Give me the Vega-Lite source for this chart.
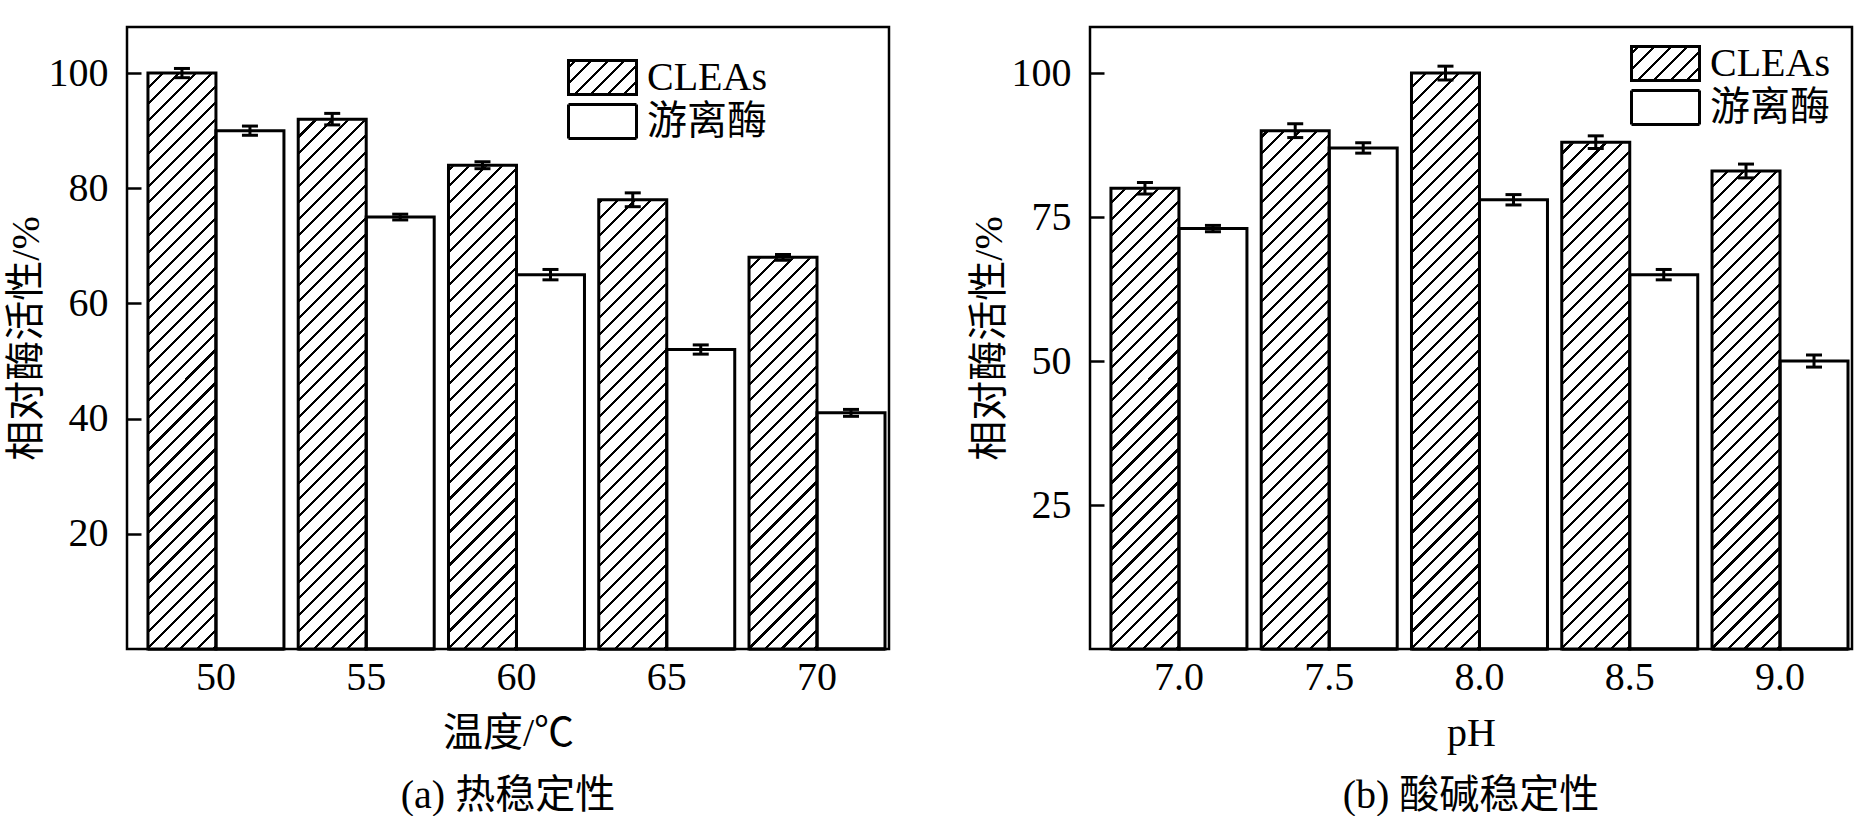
{
  "$schema": "https://vega.github.io/schema/vega-lite/v6.json",
  "background": "white",
  "padding": {"left": 4, "top": 25, "right": 2, "bottom": 0},
  "spacing": 76,
  "datasets": {
    "temp": [
      {"t": "50", "series": "CLEAs", "value": 100, "lo": 99.2, "hi": 100.8},
      {"t": "50", "series": "游离酶", "value": 90, "lo": 89.2, "hi": 90.8},
      {"t": "55", "series": "CLEAs", "value": 92, "lo": 91.0, "hi": 93.0},
      {"t": "55", "series": "游离酶", "value": 75, "lo": 74.5, "hi": 75.5},
      {"t": "60", "series": "CLEAs", "value": 84, "lo": 83.4, "hi": 84.6},
      {"t": "60", "series": "游离酶", "value": 65, "lo": 64.1, "hi": 65.9},
      {"t": "65", "series": "CLEAs", "value": 78, "lo": 76.8, "hi": 79.2},
      {"t": "65", "series": "游离酶", "value": 52, "lo": 51.2, "hi": 52.8},
      {"t": "70", "series": "CLEAs", "value": 68, "lo": 67.5, "hi": 68.5},
      {"t": "70", "series": "游离酶", "value": 41, "lo": 40.4, "hi": 41.6}
    ],
    "ph": [
      {"t": "7.0", "series": "CLEAs", "value": 80, "lo": 79.0, "hi": 81.0},
      {"t": "7.0", "series": "游离酶", "value": 73, "lo": 72.45, "hi": 73.55},
      {"t": "7.5", "series": "CLEAs", "value": 90, "lo": 88.8, "hi": 91.2},
      {"t": "7.5", "series": "游离酶", "value": 87, "lo": 86.1, "hi": 87.9},
      {"t": "8.0", "series": "CLEAs", "value": 100, "lo": 98.8, "hi": 101.2},
      {"t": "8.0", "series": "游离酶", "value": 78, "lo": 77.1, "hi": 78.9},
      {"t": "8.5", "series": "CLEAs", "value": 88, "lo": 86.9, "hi": 89.1},
      {"t": "8.5", "series": "游离酶", "value": 65, "lo": 64.1, "hi": 65.9},
      {"t": "9.0", "series": "CLEAs", "value": 83, "lo": 81.8, "hi": 84.2},
      {"t": "9.0", "series": "游离酶", "value": 50, "lo": 48.95, "hi": 51.05}
    ]
  },
  "hconcat": [
    {
      "width": 762,
      "height": 622,
      "data": {"name": "temp"},
      "title": {"text": "(a) 热稳定性", "orient": "bottom", "offset": 23},
      "encoding": {
        "x": {
          "field": "t", "type": "nominal", "sort": null, "title": "温度/℃",
          "scale": {"paddingInner": 0.095, "paddingOuter": 0.083, "align": 0.84},
          "axis": {"labelAngle": 0, "ticks": false, "labelPadding": 8, "titlePadding": 16}
        },
        "xOffset": {
          "field": "series", "type": "nominal",
          "scale": {"domain": ["CLEAs", "游离酶"], "paddingInner": 0, "paddingOuter": 0}
        }
      },
      "layer": [
        {
          "transform": [{"filter": "datum.series === 'CLEAs'"}],
          "mark": {"type": "bar", "strokeWidth": 3,
            "fill": {"gradient": "linear", "x1": 0, "y1": 0, "x2": 1.2, "y2": 0.6, "stops": [
              {"offset": 0.05, "color": "#fff"}, {"offset": 0.05, "color": "#000"}, {"offset": 0.08, "color": "#000"}, {"offset": 0.08, "color": "#fff"},
              {"offset": 0.212, "color": "#fff"}, {"offset": 0.212, "color": "#000"}, {"offset": 0.242, "color": "#000"}, {"offset": 0.242, "color": "#fff"},
              {"offset": 0.374, "color": "#fff"}, {"offset": 0.374, "color": "#000"}, {"offset": 0.404, "color": "#000"}, {"offset": 0.404, "color": "#fff"},
              {"offset": 0.536, "color": "#fff"}, {"offset": 0.536, "color": "#000"}, {"offset": 0.566, "color": "#000"}, {"offset": 0.566, "color": "#fff"},
              {"offset": 0.698, "color": "#fff"}, {"offset": 0.698, "color": "#000"}, {"offset": 0.728, "color": "#000"}, {"offset": 0.728, "color": "#fff"},
              {"offset": 0.86, "color": "#fff"}, {"offset": 0.86, "color": "#000"}, {"offset": 0.89, "color": "#000"}, {"offset": 0.89, "color": "#fff"}
            ]}},
          "encoding": {
            "y": {"datum": 0, "type": "quantitative", "scale": {"domain": [0, 108], "nice": false},
              "axis": {"values": [20, 40, 60, 80, 100], "title": "相对酶活性/%", "tickSize": -14, "tickWidth": 2.5, "labelPadding": 33, "titlePadding": 2}},
            "y2": {"datum": 0},
            "stroke": {
              "field": "series", "type": "nominal",
              "scale": {"domain": ["CLEAs"], "range": ["black"]},
              "legend": {"orient": "none", "legendX": 440, "legendY": 15, "title": null, "zindex": 1, "padding": 0,
                "symbolType": "M-1,-0.5H1V0.5H-1Z", "symbolSize": 4624, "symbolStrokeWidth": 3, "labelOffset": 9}
            }
          }
        },
        {
          "transform": [{"filter": "datum.series === '游离酶'"}],
          "mark": {"type": "bar", "fill": "white", "stroke": "black", "strokeWidth": 3},
          "encoding": {
            "y": {"datum": 0, "type": "quantitative"},
            "y2": {"datum": 0},
            "strokeDash": {
              "field": "series", "type": "nominal",
              "scale": {"domain": ["游离酶"], "range": [[1, 0]]},
              "legend": {"orient": "none", "legendX": 440, "legendY": 59, "title": null, "zindex": 1, "padding": 0,
                "symbolType": "M-1,-0.5H1V0.5H-1Z", "symbolSize": 4624, "symbolStrokeWidth": 3, "labelOffset": 9}
            }
          }
        },
        {
          "transform": [{"filter": "datum.series === 'CLEAs'"}],
          "mark": {"type": "bar", "strokeWidth": 0,
            "fill": {"gradient": "linear", "x1": 0, "y1": 0, "x2": 0.12045, "y2": 1.09663, "stops": [
              {"offset": 0.010, "color": "#fff"}, {"offset": 0.010, "color": "#000"}, {"offset": 0.0145, "color": "#000"}, {"offset": 0.0145, "color": "#fff"},
              {"offset": 0.034, "color": "#fff"}, {"offset": 0.034, "color": "#000"}, {"offset": 0.0385, "color": "#000"}, {"offset": 0.0385, "color": "#fff"},
              {"offset": 0.058, "color": "#fff"}, {"offset": 0.058, "color": "#000"}, {"offset": 0.0625, "color": "#000"}, {"offset": 0.0625, "color": "#fff"},
              {"offset": 0.082, "color": "#fff"}, {"offset": 0.082, "color": "#000"}, {"offset": 0.0865, "color": "#000"}, {"offset": 0.0865, "color": "#fff"},
              {"offset": 0.106, "color": "#fff"}, {"offset": 0.106, "color": "#000"}, {"offset": 0.1105, "color": "#000"}, {"offset": 0.1105, "color": "#fff"},
              {"offset": 0.130, "color": "#fff"}, {"offset": 0.130, "color": "#000"}, {"offset": 0.1345, "color": "#000"}, {"offset": 0.1345, "color": "#fff"},
              {"offset": 0.154, "color": "#fff"}, {"offset": 0.154, "color": "#000"}, {"offset": 0.1585, "color": "#000"}, {"offset": 0.1585, "color": "#fff"},
              {"offset": 0.178, "color": "#fff"}, {"offset": 0.178, "color": "#000"}, {"offset": 0.1825, "color": "#000"}, {"offset": 0.1825, "color": "#fff"},
              {"offset": 0.202, "color": "#fff"}, {"offset": 0.202, "color": "#000"}, {"offset": 0.2065, "color": "#000"}, {"offset": 0.2065, "color": "#fff"},
              {"offset": 0.226, "color": "#fff"}, {"offset": 0.226, "color": "#000"}, {"offset": 0.2305, "color": "#000"}, {"offset": 0.2305, "color": "#fff"},
              {"offset": 0.250, "color": "#fff"}, {"offset": 0.250, "color": "#000"}, {"offset": 0.2545, "color": "#000"}, {"offset": 0.2545, "color": "#fff"},
              {"offset": 0.274, "color": "#fff"}, {"offset": 0.274, "color": "#000"}, {"offset": 0.2785, "color": "#000"}, {"offset": 0.2785, "color": "#fff"},
              {"offset": 0.298, "color": "#fff"}, {"offset": 0.298, "color": "#000"}, {"offset": 0.3025, "color": "#000"}, {"offset": 0.3025, "color": "#fff"},
              {"offset": 0.322, "color": "#fff"}, {"offset": 0.322, "color": "#000"}, {"offset": 0.3265, "color": "#000"}, {"offset": 0.3265, "color": "#fff"},
              {"offset": 0.346, "color": "#fff"}, {"offset": 0.346, "color": "#000"}, {"offset": 0.3505, "color": "#000"}, {"offset": 0.3505, "color": "#fff"},
              {"offset": 0.370, "color": "#fff"}, {"offset": 0.370, "color": "#000"}, {"offset": 0.3745, "color": "#000"}, {"offset": 0.3745, "color": "#fff"},
              {"offset": 0.394, "color": "#fff"}, {"offset": 0.394, "color": "#000"}, {"offset": 0.3985, "color": "#000"}, {"offset": 0.3985, "color": "#fff"},
              {"offset": 0.418, "color": "#fff"}, {"offset": 0.418, "color": "#000"}, {"offset": 0.4225, "color": "#000"}, {"offset": 0.4225, "color": "#fff"},
              {"offset": 0.442, "color": "#fff"}, {"offset": 0.442, "color": "#000"}, {"offset": 0.4465, "color": "#000"}, {"offset": 0.4465, "color": "#fff"},
              {"offset": 0.466, "color": "#fff"}, {"offset": 0.466, "color": "#000"}, {"offset": 0.4705, "color": "#000"}, {"offset": 0.4705, "color": "#fff"},
              {"offset": 0.490, "color": "#fff"}, {"offset": 0.490, "color": "#000"}, {"offset": 0.4945, "color": "#000"}, {"offset": 0.4945, "color": "#fff"},
              {"offset": 0.514, "color": "#fff"}, {"offset": 0.514, "color": "#000"}, {"offset": 0.5185, "color": "#000"}, {"offset": 0.5185, "color": "#fff"},
              {"offset": 0.538, "color": "#fff"}, {"offset": 0.538, "color": "#000"}, {"offset": 0.5425, "color": "#000"}, {"offset": 0.5425, "color": "#fff"},
              {"offset": 0.562, "color": "#fff"}, {"offset": 0.562, "color": "#000"}, {"offset": 0.5665, "color": "#000"}, {"offset": 0.5665, "color": "#fff"},
              {"offset": 0.586, "color": "#fff"}, {"offset": 0.586, "color": "#000"}, {"offset": 0.5905, "color": "#000"}, {"offset": 0.5905, "color": "#fff"},
              {"offset": 0.610, "color": "#fff"}, {"offset": 0.610, "color": "#000"}, {"offset": 0.6145, "color": "#000"}, {"offset": 0.6145, "color": "#fff"},
              {"offset": 0.634, "color": "#fff"}, {"offset": 0.634, "color": "#000"}, {"offset": 0.6385, "color": "#000"}, {"offset": 0.6385, "color": "#fff"},
              {"offset": 0.658, "color": "#fff"}, {"offset": 0.658, "color": "#000"}, {"offset": 0.6625, "color": "#000"}, {"offset": 0.6625, "color": "#fff"},
              {"offset": 0.682, "color": "#fff"}, {"offset": 0.682, "color": "#000"}, {"offset": 0.6865, "color": "#000"}, {"offset": 0.6865, "color": "#fff"},
              {"offset": 0.706, "color": "#fff"}, {"offset": 0.706, "color": "#000"}, {"offset": 0.7105, "color": "#000"}, {"offset": 0.7105, "color": "#fff"},
              {"offset": 0.730, "color": "#fff"}, {"offset": 0.730, "color": "#000"}, {"offset": 0.7345, "color": "#000"}, {"offset": 0.7345, "color": "#fff"},
              {"offset": 0.754, "color": "#fff"}, {"offset": 0.754, "color": "#000"}, {"offset": 0.7585, "color": "#000"}, {"offset": 0.7585, "color": "#fff"},
              {"offset": 0.778, "color": "#fff"}, {"offset": 0.778, "color": "#000"}, {"offset": 0.7825, "color": "#000"}, {"offset": 0.7825, "color": "#fff"},
              {"offset": 0.802, "color": "#fff"}, {"offset": 0.802, "color": "#000"}, {"offset": 0.8065, "color": "#000"}, {"offset": 0.8065, "color": "#fff"},
              {"offset": 0.826, "color": "#fff"}, {"offset": 0.826, "color": "#000"}, {"offset": 0.8305, "color": "#000"}, {"offset": 0.8305, "color": "#fff"},
              {"offset": 0.850, "color": "#fff"}, {"offset": 0.850, "color": "#000"}, {"offset": 0.8545, "color": "#000"}, {"offset": 0.8545, "color": "#fff"},
              {"offset": 0.874, "color": "#fff"}, {"offset": 0.874, "color": "#000"}, {"offset": 0.8785, "color": "#000"}, {"offset": 0.8785, "color": "#fff"},
              {"offset": 0.898, "color": "#fff"}, {"offset": 0.898, "color": "#000"}, {"offset": 0.9025, "color": "#000"}, {"offset": 0.9025, "color": "#fff"},
              {"offset": 0.922, "color": "#fff"}, {"offset": 0.922, "color": "#000"}, {"offset": 0.9265, "color": "#000"}, {"offset": 0.9265, "color": "#fff"},
              {"offset": 0.946, "color": "#fff"}, {"offset": 0.946, "color": "#000"}, {"offset": 0.9505, "color": "#000"}, {"offset": 0.9505, "color": "#fff"},
              {"offset": 0.970, "color": "#fff"}, {"offset": 0.970, "color": "#000"}, {"offset": 0.9745, "color": "#000"}, {"offset": 0.9745, "color": "#fff"},
              {"offset": 0.994, "color": "#fff"}, {"offset": 0.994, "color": "#000"}, {"offset": 0.9985, "color": "#000"}, {"offset": 0.9985, "color": "#fff"}
            ]}},
          "encoding": {
            "y": {"datum": 107.5, "type": "quantitative"},
            "y2": {"datum": 0}
          }
        },
        {
          "mark": {"type": "bar", "fill": "white", "stroke": "white", "strokeWidth": 2},
          "encoding": {
            "y": {"field": "value", "type": "quantitative"},
            "y2": {"datum": 107.5}
          }
        },
        {
          "mark": {"type": "bar", "fill": "transparent", "stroke": "black", "strokeWidth": 3},
          "encoding": {
            "y": {"field": "value", "type": "quantitative"},
            "y2": {"datum": 0}
          }
        },
        {
          "mark": {"type": "rule", "color": "black", "strokeWidth": 3},
          "encoding": {"y": {"field": "lo", "type": "quantitative"}, "y2": {"field": "hi"}}
        },
        {
          "mark": {"type": "tick", "color": "black", "thickness": 3, "size": 16, "orient": "horizontal", "opacity": 1},
          "encoding": {"y": {"field": "lo", "type": "quantitative"}}
        },
        {
          "mark": {"type": "tick", "color": "black", "thickness": 3, "size": 16, "orient": "horizontal", "opacity": 1},
          "encoding": {"y": {"field": "hi", "type": "quantitative"}}
        }
      ]
    },
    {
      "width": 762,
      "height": 622,
      "data": {"name": "ph"},
      "title": {"text": "(b) 酸碱稳定性", "orient": "bottom", "offset": 23},
      "encoding": {
        "x": {
          "field": "t", "type": "nominal", "sort": null, "title": "pH",
          "scale": {"paddingInner": 0.095, "paddingOuter": 0.083, "align": 0.84},
          "axis": {"labelAngle": 0, "ticks": false, "labelPadding": 8, "titlePadding": 16}
        },
        "xOffset": {
          "field": "series", "type": "nominal",
          "scale": {"domain": ["CLEAs", "游离酶"], "paddingInner": 0, "paddingOuter": 0}
        }
      },
      "layer": [
        {
          "transform": [{"filter": "datum.series === 'CLEAs'"}],
          "mark": {"type": "bar", "strokeWidth": 3,
            "fill": {"gradient": "linear", "x1": 0, "y1": 0, "x2": 1.2, "y2": 0.6, "stops": [
              {"offset": 0.05, "color": "#fff"}, {"offset": 0.05, "color": "#000"}, {"offset": 0.08, "color": "#000"}, {"offset": 0.08, "color": "#fff"},
              {"offset": 0.212, "color": "#fff"}, {"offset": 0.212, "color": "#000"}, {"offset": 0.242, "color": "#000"}, {"offset": 0.242, "color": "#fff"},
              {"offset": 0.374, "color": "#fff"}, {"offset": 0.374, "color": "#000"}, {"offset": 0.404, "color": "#000"}, {"offset": 0.404, "color": "#fff"},
              {"offset": 0.536, "color": "#fff"}, {"offset": 0.536, "color": "#000"}, {"offset": 0.566, "color": "#000"}, {"offset": 0.566, "color": "#fff"},
              {"offset": 0.698, "color": "#fff"}, {"offset": 0.698, "color": "#000"}, {"offset": 0.728, "color": "#000"}, {"offset": 0.728, "color": "#fff"},
              {"offset": 0.86, "color": "#fff"}, {"offset": 0.86, "color": "#000"}, {"offset": 0.89, "color": "#000"}, {"offset": 0.89, "color": "#fff"}
            ]}},
          "encoding": {
            "y": {"datum": 0, "type": "quantitative", "scale": {"domain": [0, 108], "nice": false},
              "axis": {"values": [25, 50, 75, 100], "title": "相对酶活性/%", "tickSize": -14, "tickWidth": 2.5, "labelPadding": 33, "titlePadding": 2}},
            "y2": {"datum": 0},
            "stroke": {
              "field": "series", "type": "nominal",
              "scale": {"domain": ["CLEAs"], "range": ["black"]},
              "legend": {"orient": "none", "legendX": 540, "legendY": 1, "title": null, "zindex": 1, "padding": 0,
                "symbolType": "M-1,-0.5H1V0.5H-1Z", "symbolSize": 4624, "symbolStrokeWidth": 3, "labelOffset": 9}
            }
          }
        },
        {
          "transform": [{"filter": "datum.series === '游离酶'"}],
          "mark": {"type": "bar", "fill": "white", "stroke": "black", "strokeWidth": 3},
          "encoding": {
            "y": {"datum": 0, "type": "quantitative"},
            "y2": {"datum": 0},
            "strokeDash": {
              "field": "series", "type": "nominal",
              "scale": {"domain": ["游离酶"], "range": [[1, 0]]},
              "legend": {"orient": "none", "legendX": 540, "legendY": 45, "title": null, "zindex": 1, "padding": 0,
                "symbolType": "M-1,-0.5H1V0.5H-1Z", "symbolSize": 4624, "symbolStrokeWidth": 3, "labelOffset": 9}
            }
          }
        },
        {
          "transform": [{"filter": "datum.series === 'CLEAs'"}],
          "mark": {"type": "bar", "strokeWidth": 0,
            "fill": {"gradient": "linear", "x1": 0, "y1": 0, "x2": 0.12045, "y2": 1.09663, "stops": [
              {"offset": 0.010, "color": "#fff"}, {"offset": 0.010, "color": "#000"}, {"offset": 0.0145, "color": "#000"}, {"offset": 0.0145, "color": "#fff"},
              {"offset": 0.034, "color": "#fff"}, {"offset": 0.034, "color": "#000"}, {"offset": 0.0385, "color": "#000"}, {"offset": 0.0385, "color": "#fff"},
              {"offset": 0.058, "color": "#fff"}, {"offset": 0.058, "color": "#000"}, {"offset": 0.0625, "color": "#000"}, {"offset": 0.0625, "color": "#fff"},
              {"offset": 0.082, "color": "#fff"}, {"offset": 0.082, "color": "#000"}, {"offset": 0.0865, "color": "#000"}, {"offset": 0.0865, "color": "#fff"},
              {"offset": 0.106, "color": "#fff"}, {"offset": 0.106, "color": "#000"}, {"offset": 0.1105, "color": "#000"}, {"offset": 0.1105, "color": "#fff"},
              {"offset": 0.130, "color": "#fff"}, {"offset": 0.130, "color": "#000"}, {"offset": 0.1345, "color": "#000"}, {"offset": 0.1345, "color": "#fff"},
              {"offset": 0.154, "color": "#fff"}, {"offset": 0.154, "color": "#000"}, {"offset": 0.1585, "color": "#000"}, {"offset": 0.1585, "color": "#fff"},
              {"offset": 0.178, "color": "#fff"}, {"offset": 0.178, "color": "#000"}, {"offset": 0.1825, "color": "#000"}, {"offset": 0.1825, "color": "#fff"},
              {"offset": 0.202, "color": "#fff"}, {"offset": 0.202, "color": "#000"}, {"offset": 0.2065, "color": "#000"}, {"offset": 0.2065, "color": "#fff"},
              {"offset": 0.226, "color": "#fff"}, {"offset": 0.226, "color": "#000"}, {"offset": 0.2305, "color": "#000"}, {"offset": 0.2305, "color": "#fff"},
              {"offset": 0.250, "color": "#fff"}, {"offset": 0.250, "color": "#000"}, {"offset": 0.2545, "color": "#000"}, {"offset": 0.2545, "color": "#fff"},
              {"offset": 0.274, "color": "#fff"}, {"offset": 0.274, "color": "#000"}, {"offset": 0.2785, "color": "#000"}, {"offset": 0.2785, "color": "#fff"},
              {"offset": 0.298, "color": "#fff"}, {"offset": 0.298, "color": "#000"}, {"offset": 0.3025, "color": "#000"}, {"offset": 0.3025, "color": "#fff"},
              {"offset": 0.322, "color": "#fff"}, {"offset": 0.322, "color": "#000"}, {"offset": 0.3265, "color": "#000"}, {"offset": 0.3265, "color": "#fff"},
              {"offset": 0.346, "color": "#fff"}, {"offset": 0.346, "color": "#000"}, {"offset": 0.3505, "color": "#000"}, {"offset": 0.3505, "color": "#fff"},
              {"offset": 0.370, "color": "#fff"}, {"offset": 0.370, "color": "#000"}, {"offset": 0.3745, "color": "#000"}, {"offset": 0.3745, "color": "#fff"},
              {"offset": 0.394, "color": "#fff"}, {"offset": 0.394, "color": "#000"}, {"offset": 0.3985, "color": "#000"}, {"offset": 0.3985, "color": "#fff"},
              {"offset": 0.418, "color": "#fff"}, {"offset": 0.418, "color": "#000"}, {"offset": 0.4225, "color": "#000"}, {"offset": 0.4225, "color": "#fff"},
              {"offset": 0.442, "color": "#fff"}, {"offset": 0.442, "color": "#000"}, {"offset": 0.4465, "color": "#000"}, {"offset": 0.4465, "color": "#fff"},
              {"offset": 0.466, "color": "#fff"}, {"offset": 0.466, "color": "#000"}, {"offset": 0.4705, "color": "#000"}, {"offset": 0.4705, "color": "#fff"},
              {"offset": 0.490, "color": "#fff"}, {"offset": 0.490, "color": "#000"}, {"offset": 0.4945, "color": "#000"}, {"offset": 0.4945, "color": "#fff"},
              {"offset": 0.514, "color": "#fff"}, {"offset": 0.514, "color": "#000"}, {"offset": 0.5185, "color": "#000"}, {"offset": 0.5185, "color": "#fff"},
              {"offset": 0.538, "color": "#fff"}, {"offset": 0.538, "color": "#000"}, {"offset": 0.5425, "color": "#000"}, {"offset": 0.5425, "color": "#fff"},
              {"offset": 0.562, "color": "#fff"}, {"offset": 0.562, "color": "#000"}, {"offset": 0.5665, "color": "#000"}, {"offset": 0.5665, "color": "#fff"},
              {"offset": 0.586, "color": "#fff"}, {"offset": 0.586, "color": "#000"}, {"offset": 0.5905, "color": "#000"}, {"offset": 0.5905, "color": "#fff"},
              {"offset": 0.610, "color": "#fff"}, {"offset": 0.610, "color": "#000"}, {"offset": 0.6145, "color": "#000"}, {"offset": 0.6145, "color": "#fff"},
              {"offset": 0.634, "color": "#fff"}, {"offset": 0.634, "color": "#000"}, {"offset": 0.6385, "color": "#000"}, {"offset": 0.6385, "color": "#fff"},
              {"offset": 0.658, "color": "#fff"}, {"offset": 0.658, "color": "#000"}, {"offset": 0.6625, "color": "#000"}, {"offset": 0.6625, "color": "#fff"},
              {"offset": 0.682, "color": "#fff"}, {"offset": 0.682, "color": "#000"}, {"offset": 0.6865, "color": "#000"}, {"offset": 0.6865, "color": "#fff"},
              {"offset": 0.706, "color": "#fff"}, {"offset": 0.706, "color": "#000"}, {"offset": 0.7105, "color": "#000"}, {"offset": 0.7105, "color": "#fff"},
              {"offset": 0.730, "color": "#fff"}, {"offset": 0.730, "color": "#000"}, {"offset": 0.7345, "color": "#000"}, {"offset": 0.7345, "color": "#fff"},
              {"offset": 0.754, "color": "#fff"}, {"offset": 0.754, "color": "#000"}, {"offset": 0.7585, "color": "#000"}, {"offset": 0.7585, "color": "#fff"},
              {"offset": 0.778, "color": "#fff"}, {"offset": 0.778, "color": "#000"}, {"offset": 0.7825, "color": "#000"}, {"offset": 0.7825, "color": "#fff"},
              {"offset": 0.802, "color": "#fff"}, {"offset": 0.802, "color": "#000"}, {"offset": 0.8065, "color": "#000"}, {"offset": 0.8065, "color": "#fff"},
              {"offset": 0.826, "color": "#fff"}, {"offset": 0.826, "color": "#000"}, {"offset": 0.8305, "color": "#000"}, {"offset": 0.8305, "color": "#fff"},
              {"offset": 0.850, "color": "#fff"}, {"offset": 0.850, "color": "#000"}, {"offset": 0.8545, "color": "#000"}, {"offset": 0.8545, "color": "#fff"},
              {"offset": 0.874, "color": "#fff"}, {"offset": 0.874, "color": "#000"}, {"offset": 0.8785, "color": "#000"}, {"offset": 0.8785, "color": "#fff"},
              {"offset": 0.898, "color": "#fff"}, {"offset": 0.898, "color": "#000"}, {"offset": 0.9025, "color": "#000"}, {"offset": 0.9025, "color": "#fff"},
              {"offset": 0.922, "color": "#fff"}, {"offset": 0.922, "color": "#000"}, {"offset": 0.9265, "color": "#000"}, {"offset": 0.9265, "color": "#fff"},
              {"offset": 0.946, "color": "#fff"}, {"offset": 0.946, "color": "#000"}, {"offset": 0.9505, "color": "#000"}, {"offset": 0.9505, "color": "#fff"},
              {"offset": 0.970, "color": "#fff"}, {"offset": 0.970, "color": "#000"}, {"offset": 0.9745, "color": "#000"}, {"offset": 0.9745, "color": "#fff"},
              {"offset": 0.994, "color": "#fff"}, {"offset": 0.994, "color": "#000"}, {"offset": 0.9985, "color": "#000"}, {"offset": 0.9985, "color": "#fff"}
            ]}},
          "encoding": {
            "y": {"datum": 107.5, "type": "quantitative"},
            "y2": {"datum": 0}
          }
        },
        {
          "mark": {"type": "bar", "fill": "white", "stroke": "white", "strokeWidth": 2},
          "encoding": {
            "y": {"field": "value", "type": "quantitative"},
            "y2": {"datum": 107.5}
          }
        },
        {
          "mark": {"type": "bar", "fill": "transparent", "stroke": "black", "strokeWidth": 3},
          "encoding": {
            "y": {"field": "value", "type": "quantitative"},
            "y2": {"datum": 0}
          }
        },
        {
          "mark": {"type": "rule", "color": "black", "strokeWidth": 3},
          "encoding": {"y": {"field": "lo", "type": "quantitative"}, "y2": {"field": "hi"}}
        },
        {
          "mark": {"type": "tick", "color": "black", "thickness": 3, "size": 16, "orient": "horizontal", "opacity": 1},
          "encoding": {"y": {"field": "lo", "type": "quantitative"}}
        },
        {
          "mark": {"type": "tick", "color": "black", "thickness": 3, "size": 16, "orient": "horizontal", "opacity": 1},
          "encoding": {"y": {"field": "hi", "type": "quantitative"}}
        }
      ]
    }
  ],
  "resolve": {
    "scale": {"stroke": "independent", "strokeDash": "independent"},
    "legend": {"stroke": "independent", "strokeDash": "independent"}
  },
  "config": {
    "font": "Liberation Serif, Noto Sans CJK SC",
    "view": {"stroke": "black", "strokeWidth": 2.5},
    "bar": {"opacity": 1},
    "axis": {
      "domain": false, "grid": false,
      "labelFont": "Liberation Serif, Noto Sans CJK SC", "titleFont": "Liberation Serif, Noto Sans CJK SC",
      "labelFontSize": 40, "titleFontSize": 40, "titleFontWeight": "normal",
      "labelColor": "black", "titleColor": "black", "tickColor": "black"
    },
    "legend": {"labelFont": "Liberation Serif, Noto Sans CJK SC", "labelFontSize": 40, "labelColor": "black", "labelLimit": 0},
    "title": {"font": "Liberation Serif, Noto Sans CJK SC", "fontSize": 40, "fontWeight": "normal", "color": "black", "anchor": "middle"}
  }
}
